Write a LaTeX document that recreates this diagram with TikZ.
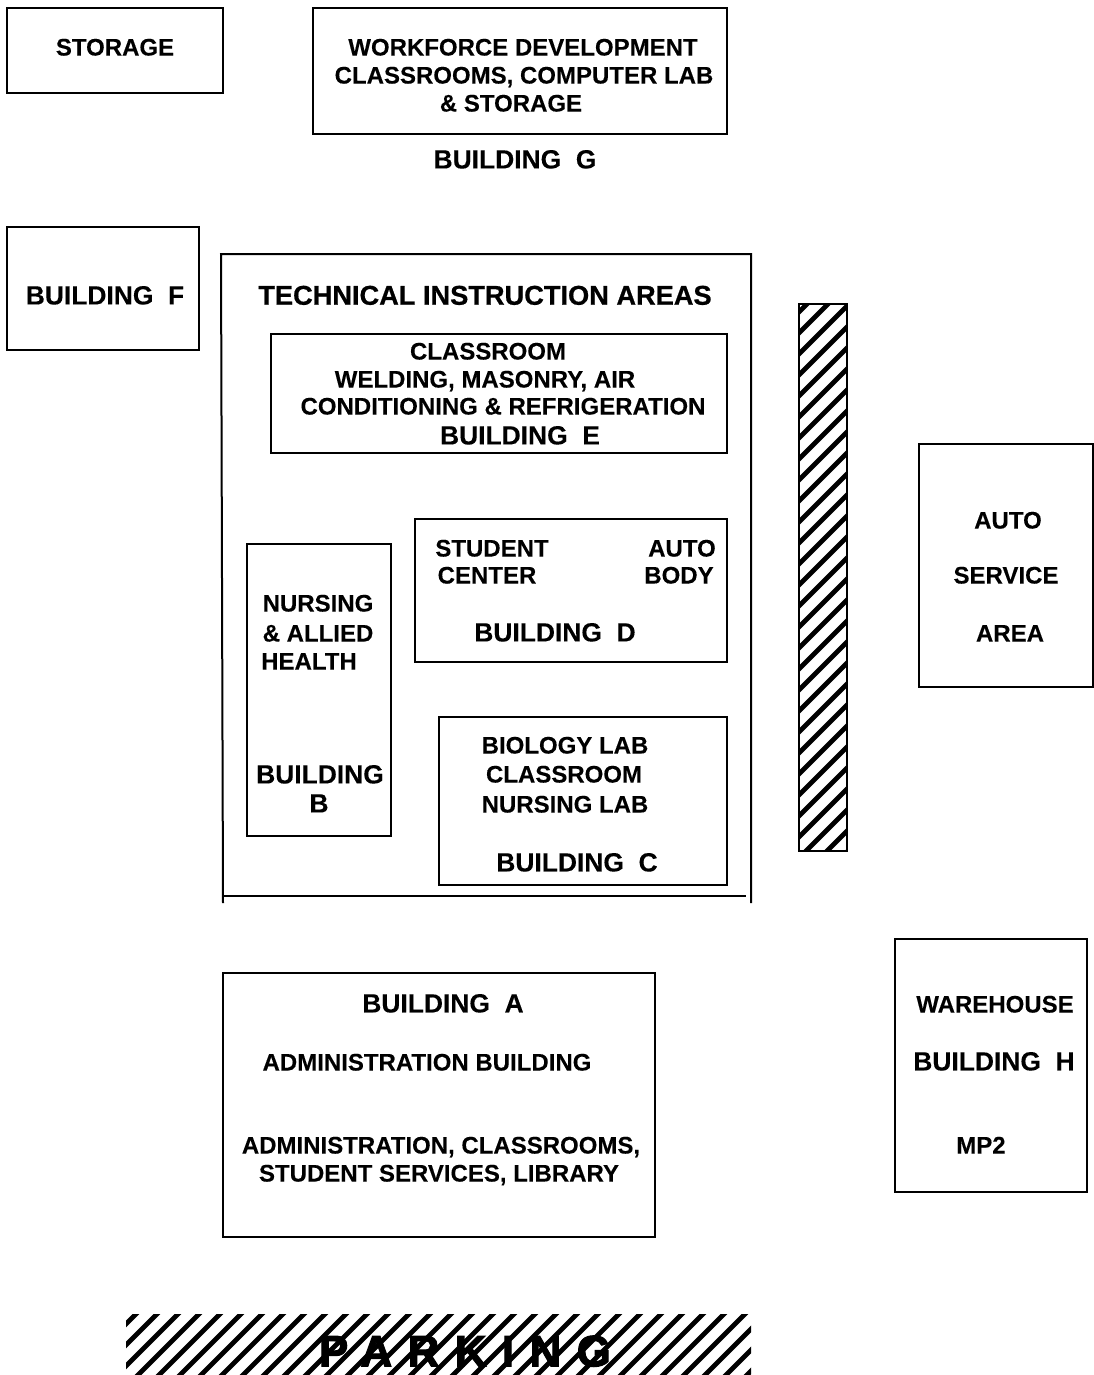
\documentclass[tikz,border=0pt]{standalone}
\usepackage{fontspec}
\setmainfont{Liberation Sans}[BoldFont={Liberation Sans Bold},BoldFeatures={FakeBold=0.15}]
\newfontfamily\fakebold{Liberation Sans Bold}[FakeBold=0.7]
\newfontfamily\parkfont{Liberation Sans Bold}[FakeBold=2.2,LetterSpace=35]
\tikzset{
  bldg/.style={draw=black,line width=1.4pt,fill=none},
  wall/.style={draw=black,line width=1.5pt},
  hatchline/.style={draw=black,line width=3.5pt},
  lbl/.style={inner sep=0pt,text height=12.8pt,text depth=0pt,font=\fontsize{18pt}{20pt}\selectfont\bfseries},
  big/.style={inner sep=0pt,text height=14.2pt,text depth=0pt,font=\fontsize{19.8pt}{22pt}\selectfont\bfseries},
}
\begin{document}
\begin{tikzpicture}[x=0.75pt,y=-0.75pt]
\useasboundingbox (0,0) rectangle (1094,1375);
% buildings
\draw[bldg] (7,8) rectangle (223,93);
\draw[bldg] (313,8) rectangle (727,134);
\draw[bldg] (7,227) rectangle (199,350);
\draw[bldg] (271,334) rectangle (727,453);
\draw[bldg] (415,519) rectangle (727,662);
\draw[bldg] (247,544) rectangle (391,836);
\draw[bldg] (439,717) rectangle (727,885);
\draw[bldg] (919,444) rectangle (1093,687);
\draw[bldg] (895,939) rectangle (1087,1192);
\draw[bldg] (223,973) rectangle (655,1237);
% technical instruction area outline
\coordinate (tl) at (221,254);
\coordinate (tr) at (751,254);
\coordinate (bl) at (223,903);
\coordinate (br) at (751,903);
\coordinate (hl) at (223,896);
\coordinate (hr) at (746,896);
\draw[wall] (bl) -- (tl) -- (tr) -- (br);
\draw[wall] (hl) -- (hr);
% vertical hatched strip
\begin{scope}
\clip (799,304) rectangle (847,851);
\foreach \k in {0,...,30} {
  \draw[hatchline] (780,{331+\k*21}) -- (880,{231+\k*21});
}
\end{scope}
\draw[bldg] (799,304) rectangle (847,851);
% parking hatch
\begin{scope}
\clip (126,1314) rectangle (751,1375);
\foreach \k in {0,...,36} {
  \draw[hatchline] ({65+\k*21},1385) -- ({150+\k*21},1300);
}
\end{scope}
% labels
\node[lbl] (t1) at (115,47) {STORAGE};
\node[lbl] (t2) at (523,47) {WORKFORCE DEVELOPMENT};
\node[lbl] (t3) at (524,75) {CLASSROOMS, COMPUTER LAB};
\node[lbl] (t4) at (511,103) {\& STORAGE};
\node[big] (t5) at (515,159) {BUILDING\ \ G};
\node[big] (t6) at (105,295) {BUILDING\ \ F};
\node[inner sep=0pt,text height=14.6pt,text depth=0pt,font=\fontsize{20.4pt}{22pt}\fakebold] (t7) at (485,295) {TECHNICAL INSTRUCTION AREAS};
\node[lbl] (t8) at (488,351) {CLASSROOM};
\node[lbl] (t9) at (485,379) {WELDING, MASONRY, AIR};
\node[lbl] (t10) at (503,406) {CONDITIONING \& REFRIGERATION};
\node[big] (t11) at (520,435) {BUILDING\ \ E};
\node[lbl] (t12) at (492,548) {STUDENT};
\node[lbl] (t13) at (682,548) {AUTO};
\node[lbl] (t14) at (487,575) {CENTER};
\node[lbl] (t15) at (679,575) {BODY};
\node[big] (t16) at (555,632) {BUILDING\ \ D};
\node[lbl] (t17) at (318,603) {NURSING};
\node[lbl] (t18) at (318,633) {\& ALLIED};
\node[lbl] (t19) at (309,661) {HEALTH};
\node[big] (t20) at (320,774) {BUILDING};
\node[big] (t21) at (319,803) {B};
\node[lbl] (t22) at (565,745) {BIOLOGY LAB};
\node[lbl] (t23) at (564,774) {CLASSROOM};
\node[lbl] (t24) at (565,804) {NURSING LAB};
\node[big] (t25) at (577,862) {BUILDING\ \ C};
\node[lbl] (t26) at (1008,520) {AUTO};
\node[lbl] (t27) at (1006,575) {SERVICE};
\node[lbl] (t28) at (1010,633) {AREA};
\node[lbl] (t29) at (995,1004) {WAREHOUSE};
\node[big] (t30) at (994,1061) {BUILDING\ \ H};
\node[lbl] (t31) at (981,1145) {MP2};
\node[big] (t32) at (443,1003) {BUILDING\ \ A};
\node[lbl] (t33) at (427,1062) {ADMINISTRATION BUILDING};
\node[lbl] (t34) at (441,1145) {ADMINISTRATION, CLASSROOMS,};
\node[lbl] (t35) at (439,1173) {STUDENT SERVICES, LIBRARY};
\node[inner sep=0pt,text height=23pt,text depth=0pt,font=\fontsize{33pt}{36pt}\parkfont] (t36) at (465,1351) {PARKING};
\end{tikzpicture}
\end{document}
